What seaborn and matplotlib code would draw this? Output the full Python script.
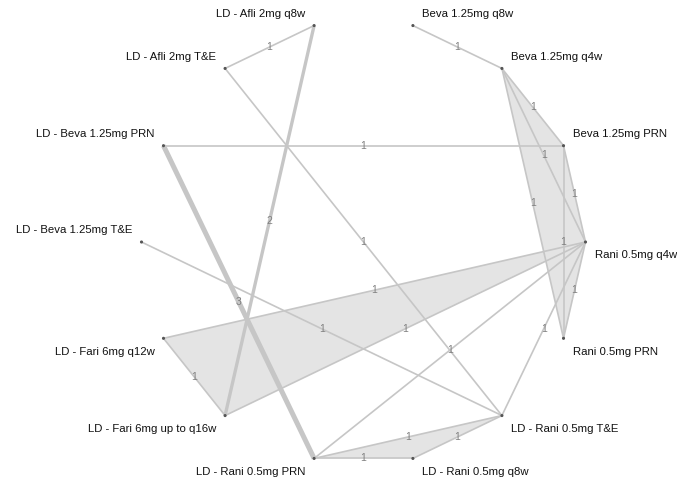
import numpy as np
import pandas as pd
import matplotlib
matplotlib.use("Agg")
import matplotlib.pyplot as plt
import seaborn as sns

# treatments in circle order (counter-clockwise, starting at 3 o'clock)
treatments = ["Rani 0.5mg q4w", "Beva 1.25mg PRN", "Beva 1.25mg q4w", "Beva 1.25mg q8w",
              "LD - Afli 2mg q8w", "LD - Afli 2mg T&E", "LD - Beva 1.25mg PRN",
              "LD - Beva 1.25mg T&E", "LD - Fari 6mg q12w", "LD - Fari 6mg up to q16w",
              "LD - Rani 0.5mg PRN", "LD - Rani 0.5mg q8w", "LD - Rani 0.5mg T&E",
              "Rani 0.5mg PRN"]

# direct comparisons and number of studies
comp_a = ["Beva 1.25mg q8w", "Beva 1.25mg q4w", "Beva 1.25mg q4w", "Beva 1.25mg q4w",
          "Beva 1.25mg PRN", "Beva 1.25mg PRN", "Rani 0.5mg q4w", "Beva 1.25mg PRN",
          "Rani 0.5mg q4w", "Rani 0.5mg q4w", "LD - Fari 6mg q12w", "Rani 0.5mg q4w",
          "Rani 0.5mg q4w", "LD - Rani 0.5mg PRN", "LD - Rani 0.5mg PRN", "LD - Rani 0.5mg q8w",
          "LD - Afli 2mg q8w", "LD - Afli 2mg q8w", "LD - Afli 2mg T&E", "LD - Beva 1.25mg PRN",
          "LD - Beva 1.25mg T&E"]
comp_b = ["Beva 1.25mg q4w", "Beva 1.25mg PRN", "Rani 0.5mg q4w", "Rani 0.5mg PRN",
          "Rani 0.5mg q4w", "Rani 0.5mg PRN", "Rani 0.5mg PRN", "LD - Beva 1.25mg PRN",
          "LD - Fari 6mg q12w", "LD - Fari 6mg up to q16w", "LD - Fari 6mg up to q16w",
          "LD - Rani 0.5mg PRN", "LD - Rani 0.5mg T&E", "LD - Rani 0.5mg q8w",
          "LD - Rani 0.5mg T&E", "LD - Rani 0.5mg T&E", "LD - Afli 2mg T&E",
          "LD - Fari 6mg up to q16w", "LD - Rani 0.5mg T&E", "LD - Rani 0.5mg PRN",
          "LD - Rani 0.5mg T&E"]
n_studies = [1, 1, 1, 1, 1, 1, 1, 1, 1, 1, 1, 1, 1, 1, 1, 1, 1, 2, 1, 3, 1]

# multi-arm studies (shaded)
multi_arm = [["Rani 0.5mg q4w", "Beva 1.25mg PRN", "Beva 1.25mg q4w", "Rani 0.5mg PRN"],
             ["Rani 0.5mg q4w", "LD - Fari 6mg q12w", "LD - Fari 6mg up to q16w"],
             ["LD - Rani 0.5mg PRN", "LD - Rani 0.5mg q8w", "LD - Rani 0.5mg T&E"]]

# circular layout
k = len(treatments)
ang = 2 * np.pi * np.arange(k) / k
nodes = pd.DataFrame({"trt": treatments, "x": np.cos(ang), "y": np.sin(ang),
                      "deg": np.degrees(ang)})
pos = nodes.set_index("trt")

sns.set_style("white")
plt.rcParams["font.family"] = ["Liberation Sans", "DejaVu Sans"]

fig = plt.figure(figsize=(6.77, 4.82), dpi=100)
ax = fig.add_axes([0, 0, 1, 1])
r = 222.0
ax.set_xlim(-363.5 / r, (677 - 363.5) / r)
ax.set_ylim(-(482 - 242) / r, 242 / r)
ax.set_aspect("equal")
ax.axis("off")

for grp in multi_arm:
    idx = sorted(treatments.index(t) for t in grp)
    px = [nodes.x[i] for i in idx]
    py = [nodes.y[i] for i in idx]
    ax.fill(px, py, color="#e4e4e4", lw=0, zorder=1)

for a, b, n in zip(comp_a, comp_b, n_studies):
    xa, ya = pos.loc[a, "x"], pos.loc[a, "y"]
    xb, yb = pos.loc[b, "x"], pos.loc[b, "y"]
    ax.plot([xa, xb], [ya, yb], color="#c6c6c6", lw=1.2 * n,
            solid_capstyle="butt", zorder=2)
    ax.text((xa + xb) / 2, (ya + yb) / 2, str(n), fontsize=7.5, color="#808080",
            ha="center", va="center", zorder=3)

sns.scatterplot(data=nodes, x="x", y="y", ax=ax, s=5, color="#555555",
                edgecolor="none", zorder=4, legend=False)

for _, row in nodes.iterrows():
    right = np.cos(np.radians(row.deg)) > 0
    above = 0 < row.deg <= 180
    ax.annotate(row.trt, (row.x, row.y),
                xytext=(6.5 if right else -6.5, 8.5 if above else -9.5),
                textcoords="offset points", ha="left" if right else "right",
                va="center", fontsize=8.2, color="#111111")

fig.savefig("out.png", dpi=100)
